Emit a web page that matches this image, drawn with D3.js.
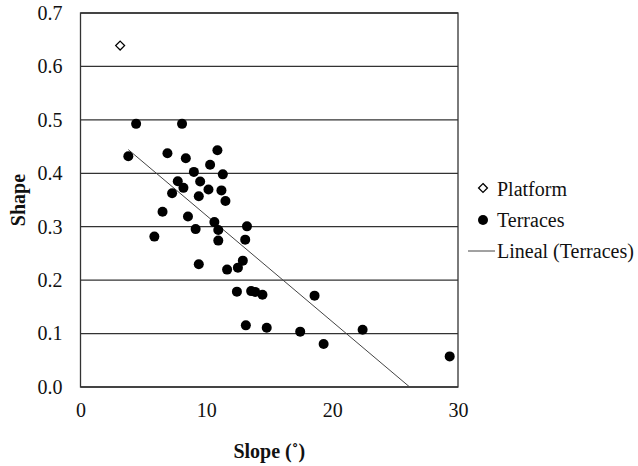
<!DOCTYPE html>
<html>
<head>
<meta charset="utf-8">
<script src="https://cdn.jsdelivr.net/npm/d3@7"></script>
<style>
    body { margin: 0; background: #fff; }
    svg text { font-family: "Liberation Serif", "DejaVu Serif", serif; fill: #111; }
</style>
</head>
<body>
<div id="chart"></div>
<script>
// values
var platform_x = [3.15];
var platform_y = [0.639];

var terraces_x = [4.42, 8.07, 3.80, 6.91, 8.37, 10.88, 10.30, 9.01, 11.31, 7.73,
                  9.51, 8.18, 10.17, 11.20, 7.28, 9.40, 11.52, 6.52, 8.54, 10.64,
                  9.15, 10.95, 13.23, 5.87, 10.95, 13.09, 9.40, 12.90, 12.51, 11.65,
                  12.43, 13.56, 13.88, 14.46, 18.60, 13.14, 14.80, 17.46, 22.42, 19.32,
                  29.34];
var terraces_y = [0.4925, 0.4925, 0.432, 0.4375, 0.428, 0.443, 0.416, 0.4026, 0.398, 0.385,
                  0.3845, 0.3727, 0.3695, 0.368, 0.3625, 0.357, 0.348, 0.328, 0.319, 0.3086,
                  0.2955, 0.294, 0.3007, 0.2815, 0.274, 0.2758, 0.2296, 0.2365, 0.2234, 0.2197,
                  0.1785, 0.1795, 0.178, 0.1725, 0.171, 0.1154, 0.111, 0.1036, 0.1073, 0.0805,
                  0.0573];

// trend line end points (Lineal (Terraces))
var trend_x = [3.80, 26.16];
var trend_y = [0.4443, 0.0];

var x_ticks = [0, 10, 20, 30];
var y_ticks = [0.0, 0.1, 0.2, 0.3, 0.4, 0.5, 0.6, 0.7];

var margin = {top: 13, right: 180, bottom: 79, left: 80.5};
var width = 638 - margin.left - margin.right;
var height = 466 - margin.top - margin.bottom;

var svg = d3.select("#chart").append("svg")
    .attr("width", 638)
    .attr("height", 466);

var g = svg.append("g")
    .attr("transform", "translate(" + margin.left + "," + margin.top + ")");

var x = d3.scaleLinear().domain([0, 30]).range([0, width]);
var y = d3.scaleLinear().domain([0, 0.7]).range([height, 0]);

// horizontal grid lines
g.append("g")
    .selectAll("line")
    .data(y_ticks)
    .enter().append("line")
    .attr("x1", 0).attr("x2", width)
    .attr("y1", function(d) { return y(d); })
    .attr("y2", function(d) { return y(d); })
    .attr("stroke", "#333")
    .attr("stroke-width", 1.3);

// plot box
g.append("rect")
    .attr("x", 0).attr("y", 0)
    .attr("width", width).attr("height", height)
    .attr("fill", "none")
    .attr("stroke", "#333")
    .attr("stroke-width", 1.3);

// axes, labels only
var y_axis = g.append("g")
    .call(d3.axisLeft(y).tickValues(y_ticks).tickFormat(d3.format(".1f")).tickSize(0).tickPadding(18));
var x_axis = g.append("g")
    .attr("transform", "translate(0," + height + ")")
    .call(d3.axisBottom(x).tickValues(x_ticks).tickFormat(d3.format("d")).tickSize(0).tickPadding(16));

[y_axis, x_axis].forEach(function(a) {
    a.attr("font-family", null).attr("font-size", null);
    a.select(".domain").remove();
    a.selectAll("text")
        .style("font-size", "20px")
        .attr("fill", "#111");
});

// trend line
var trend = trend_x.map(function(d, i) { return [d, trend_y[i]]; });
g.append("path")
    .datum(trend)
    .attr("d", d3.line().x(function(d) { return x(d[0]); }).y(function(d) { return y(d[1]); }))
    .attr("stroke", "#444")
    .attr("stroke-width", 1)
    .attr("fill", "none");

// terraces
var terraces = terraces_x.map(function(d, i) { return [d, terraces_y[i]]; });
g.append("g")
    .selectAll("circle")
    .data(terraces)
    .enter().append("circle")
    .attr("cx", function(d) { return x(d[0]); })
    .attr("cy", function(d) { return y(d[1]); })
    .attr("r", 5)
    .attr("fill", "#000");

// platform
var diamond = d3.symbol().type(d3.symbolDiamond2).size(50);
var platform = platform_x.map(function(d, i) { return [d, platform_y[i]]; });
g.append("g")
    .selectAll("path")
    .data(platform)
    .enter().append("path")
    .attr("d", diamond)
    .attr("transform", function(d) { return "translate(" + x(d[0]) + "," + y(d[1]) + ")"; })
    .attr("fill", "#fff")
    .attr("stroke", "#000")
    .attr("stroke-width", 1.3);

// axis titles
svg.append("text")
    .attr("x", margin.left + width / 2)
    .attr("y", 458)
    .attr("text-anchor", "middle")
    .style("font-size", "20px")
    .style("font-weight", "bold")
    .text("Slope (˚)");

svg.append("text")
    .attr("transform", "translate(25," + (margin.top + height / 2) + ") rotate(-90)")
    .attr("text-anchor", "middle")
    .style("font-size", "20px")
    .style("font-weight", "bold")
    .text("Shape");

// legend
var legend = svg.append("g");
legend.append("path")
    .attr("d", diamond)
    .attr("transform", "translate(483,188)")
    .attr("fill", "#fff")
    .attr("stroke", "#000")
    .attr("stroke-width", 1.3);
legend.append("circle")
    .attr("cx", 483).attr("cy", 220).attr("r", 5)
    .attr("fill", "#000");
legend.append("line")
    .attr("x1", 468).attr("x2", 495)
    .attr("y1", 251).attr("y2", 251)
    .attr("stroke", "#444").attr("stroke-width", 1);

var legend_labels = ["Platform", "Terraces", "Lineal (Terraces)"];
var legend_y = [189, 220, 251];
legend.selectAll("text.leg")
    .data(legend_labels)
    .enter().append("text")
    .attr("class", "leg")
    .attr("x", 497)
    .attr("y", function(d, i) { return legend_y[i]; })
    .attr("dy", "0.35em")
    .style("font-size", "20px")
    .text(function(d) { return d; });
</script>
</body>
</html>
